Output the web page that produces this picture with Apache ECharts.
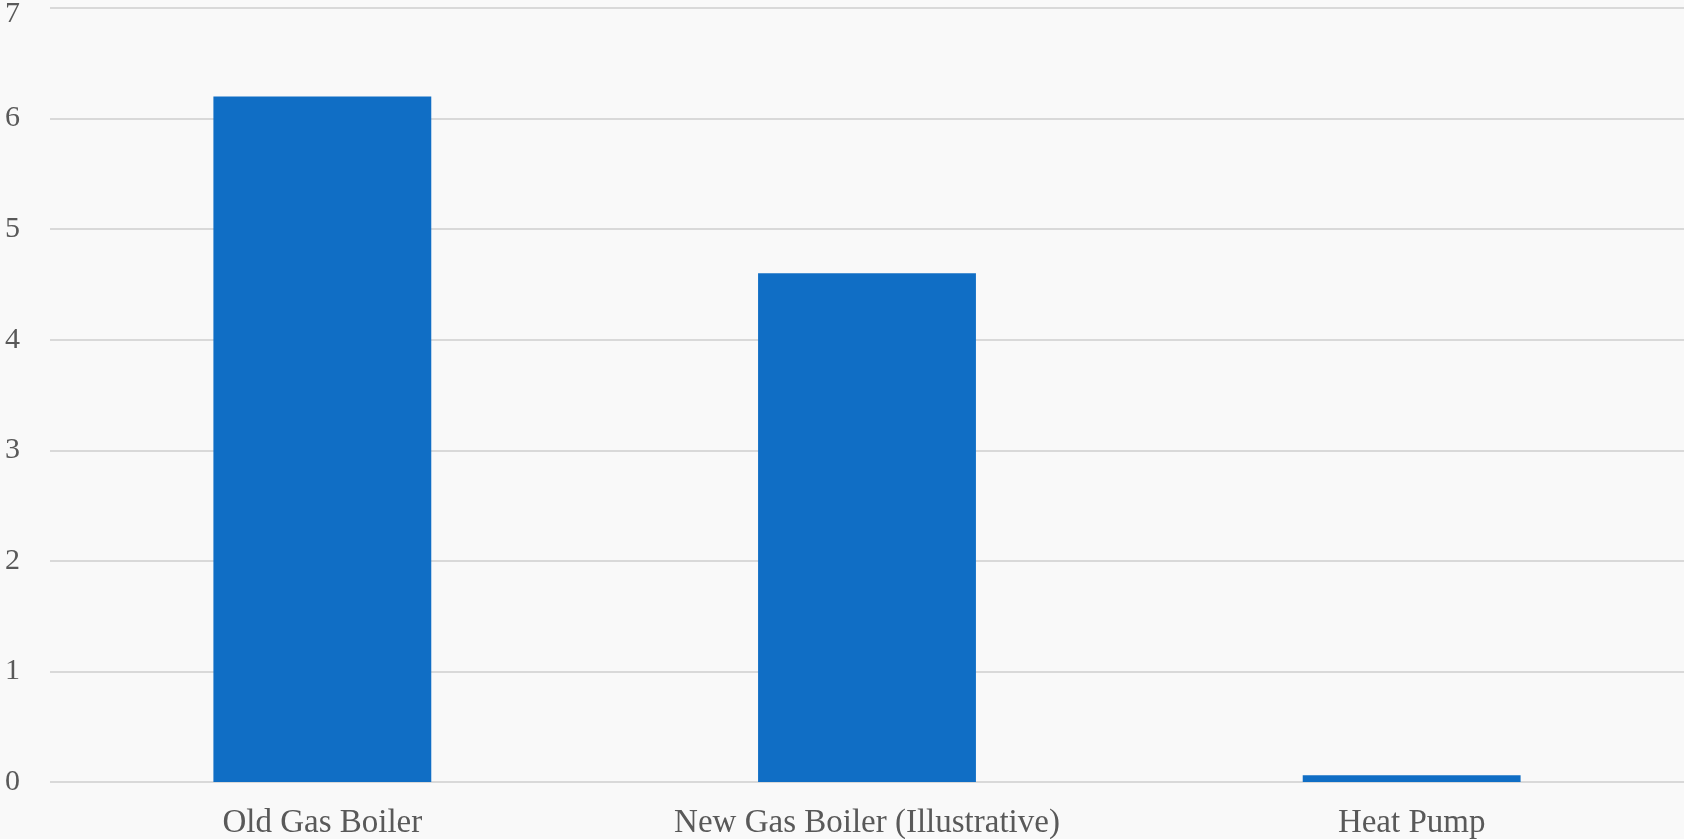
<!DOCTYPE html>
<html>
<head>
<meta charset="utf-8">
<script src="https://cdn.jsdelivr.net/npm/echarts@6/dist/echarts.min.js"></script>
<style>
html,body{margin:0;padding:0;background:#f9f9f9;}
#chart{width:1684px;height:839px;}
</style>
</head>
<body>
<div id="chart"></div>
<script>
const categories = ["Old Gas Boiler", "New Gas Boiler (Illustrative)", "Heat Pump"];
const values = [6.2, 4.6, 0.06];
const yTicks = [0, 1, 2, 3, 4, 5, 6, 7];

const chart = echarts.init(document.getElementById('chart'));
chart.setOption({
  backgroundColor: '#f9f9f9',
  animation: false,
  grid: { left: 50, right: 0, top: 8, bottom: 57, containLabel: false, outerBoundsMode: 'none' },
  xAxis: {
    type: 'category',
    data: categories,
    axisLine: { show: false },
    axisTick: { show: false },
    axisLabel: {
      color: '#595959',
      fontFamily: 'Liberation Serif',
      fontSize: 33,
      margin: 25,
      interval: 0
    }
  },
  yAxis: {
    type: 'value',
    min: yTicks[0],
    max: yTicks[yTicks.length - 1],
    interval: 1,
    axisLine: { show: false },
    axisTick: { show: false },
    splitLine: { lineStyle: { color: '#d9d9d9', width: 2 } },
    axisLabel: {
      color: '#595959',
      fontFamily: 'Liberation Serif',
      fontSize: 30,
      margin: 30,
      formatter: function (v) {
        return v === yTicks[yTicks.length - 1] ? '{top|' + v + '}' : '{n|' + v + '}';
      },
      rich: {
        top: { fontFamily: 'Liberation Serif', fontSize: 30, color: '#595959', padding: [12, 0, 0, 0] },
        n: { fontFamily: 'Liberation Serif', fontSize: 30, color: '#595959' }
      }
    }
  },
  series: [{
    type: 'bar',
    data: values,
    barWidth: '40%',
    itemStyle: { color: '#106ec5' }
  }]
});
</script>
</body>
</html>
